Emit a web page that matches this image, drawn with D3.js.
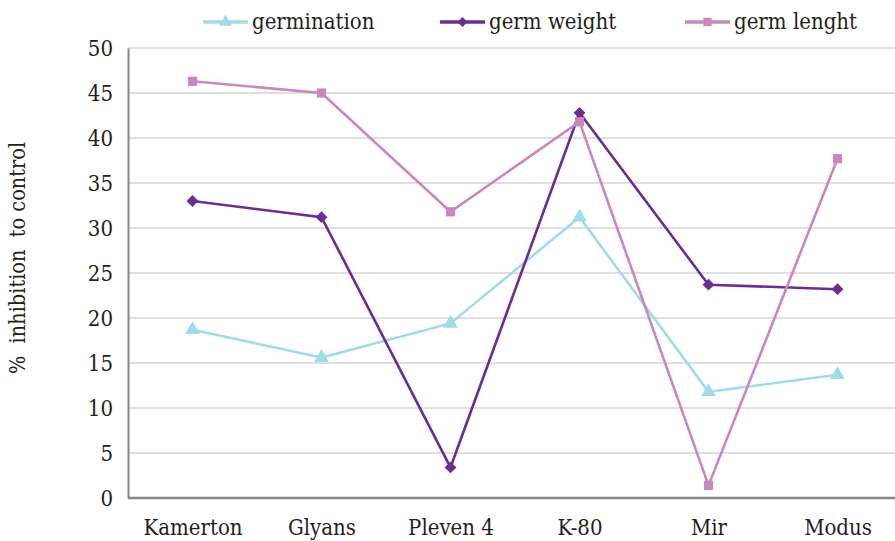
<!DOCTYPE html>
<html>
<head>
<meta charset="utf-8">
<script src="https://cdn.jsdelivr.net/npm/d3@7"></script>
<style>
  body { margin: 0; background: #fff; }
  svg text { font-stretch: condensed; fill: #231f20; }
</style>
</head>
<body>
<script>
var categories = ["Kamerton", "Glyans", "Pleven 4", "K-80", "Mir", "Modus"];
var germination = [18.7, 15.6, 19.4, 31.2, 11.8, 13.7];
var germWeight  = [33.0, 31.2, 3.4, 42.8, 23.7, 23.2];
var germLenght  = [46.3, 45.0, 31.8, 41.8, 1.4, 37.7];
var yTicks = [0, 5, 10, 15, 20, 25, 30, 35, 40, 45, 50];

// only serif face available here
var serif = "'DejaVu Serif Condensed', 'DejaVu Serif'";

var series = [
	{ name: "germination", values: germination, color: "#9fdce7", symbol: d3.symbolTriangle },
	{ name: "germ weight", values: germWeight,  color: "#6c2c91", symbol: d3.symbolSquare, rotate: 45 },
	{ name: "germ lenght", values: germLenght,  color: "#c987bc", symbol: d3.symbolSquare }
];

var width = 895, height = 541;
var margin = {top: 48, right: -7, bottom: 43, left: 128};

var svg = d3.select("body").append("svg")
	.attr("width", width)
	.attr("height", height)
	.attr("font-family", serif);

var x = d3.scalePoint()
	.domain(categories)
	.range([margin.left, width - margin.right])
	.padding(0.5);

var y = d3.scaleLinear()
	.domain([0, 50])
	.range([height - margin.bottom, margin.top]);

// gridlines
svg.append("g")
	.selectAll("line")
	.data(yTicks.filter(function(d) { return d > 0; }))
	.join("line")
	.attr("x1", margin.left)
	.attr("x2", width)
	.attr("y1", function(d) { return y(d); })
	.attr("y2", function(d) { return y(d); })
	.attr("stroke", "#c0c0c0")
	.attr("stroke-width", 1.2);

// axes
var yAxis = svg.append("g")
	.attr("transform", "translate(" + margin.left + ",0)")
	.call(d3.axisLeft(y).tickValues(yTicks).tickSize(0).tickPadding(15));
yAxis.attr("font-family", serif);
yAxis.select(".domain").attr("stroke", "#868686").attr("stroke-width", 2);
yAxis.selectAll("text").style("font-size", "22px").attr("fill", "#231f20");

var xAxis = svg.append("g")
	.attr("transform", "translate(0," + y(0) + ")")
	.call(d3.axisBottom(x).tickSize(0).tickPadding(21));
xAxis.attr("font-family", serif);
xAxis.select(".domain").attr("stroke", "#868686").attr("stroke-width", 2.5)
	.attr("d", "M" + margin.left + ",0H" + width);
xAxis.selectAll("text").style("font-size", "22px").attr("fill", "#231f20");

// y label
svg.append("text")
	.attr("transform", "translate(25,258) rotate(-90)")
	.attr("text-anchor", "middle")
	.style("font-size", "21.5px")
	.style("white-space", "pre")
	.text("%  inhibition  to control");

// lines
var line = d3.line()
	.x(function(d, i) { return x(categories[i]); })
	.y(function(d) { return y(d); });

series.forEach(function(s) {
	svg.append("path")
		.datum(s.values)
		.attr("d", line)
		.attr("fill", "none")
		.attr("stroke", s.color)
		.attr("stroke-width", 2.6);
	svg.append("g").selectAll("path")
		.data(s.values)
		.join("path")
		.attr("transform", function(d, i) {
			return "translate(" + x(categories[i]) + "," + y(d) + ")" + (s.rotate ? " rotate(45)" : "");
		})
		.attr("d", d3.symbol().type(s.symbol).size(s.rotate ? 70 : s.symbol === d3.symbolSquare ? 85 : 95))
		.attr("fill", s.color);
});

// legend
var legendX = [203, 440, 685];
var legend = svg.append("g").selectAll("g")
	.data(series)
	.join("g")
	.attr("transform", function(d, i) { return "translate(" + legendX[i] + ",22)"; });
legend.append("line")
	.attr("x1", 0).attr("x2", 45)
	.attr("stroke", function(d) { return d.color; })
	.attr("stroke-width", 3.5);
legend.append("path")
	.attr("transform", function(d) { return "translate(22.5,0)" + (d.rotate ? " rotate(45)" : ""); })
	.attr("d", function(d) { return d3.symbol().type(d.symbol).size(d.rotate ? 50 : 70)(); })
	.attr("fill", function(d) { return d.color; });
legend.append("text")
	.attr("x", 49)
	.attr("dy", "0.32em")
	.style("font-size", "22px")
	.text(function(d) { return d.name; });
</script>
</body>
</html>
